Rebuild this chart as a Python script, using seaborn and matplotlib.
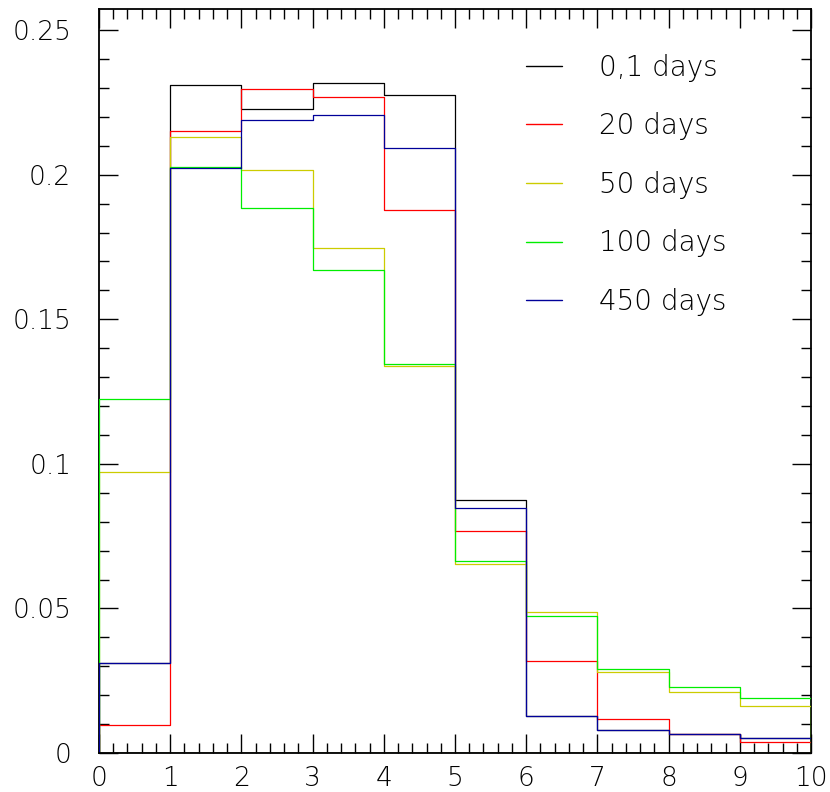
import numpy as np
import pandas as pd
import matplotlib
matplotlib.use("Agg")
import matplotlib.pyplot as plt
import seaborn as sns
from matplotlib.lines import Line2D
from matplotlib.ticker import MultipleLocator

# bins 0..10, one per unit; per-bin fractions
bin_centers = np.arange(10) + 0.5

labels = ["0,1 days", "20 days", "50 days", "100 days", "450 days"]
colors = ["black", "#ff0000", "#cccc00", "#00ee00", "#000099"]

days_0_1 = [0.031, 0.231, 0.2227, 0.2317, 0.2274, 0.0875, 0.0128, 0.0080, 0.0066, 0.0053]
days_20 = [0.0098, 0.2152, 0.2295, 0.2267, 0.1878, 0.0769, 0.0318, 0.0119, 0.0067, 0.0037]
days_50 = [0.0971, 0.2129, 0.2017, 0.1746, 0.1338, 0.0654, 0.0488, 0.0281, 0.0212, 0.0164]
days_100 = [0.1223, 0.2027, 0.1886, 0.1669, 0.1347, 0.0665, 0.0473, 0.0289, 0.0229, 0.0189]
days_450 = [0.031, 0.2022, 0.219, 0.2208, 0.2094, 0.0846, 0.0128, 0.0080, 0.0066, 0.0053]
series = [days_0_1, days_20, days_50, days_100, days_450]

xticks = list(range(0, 11))
yticks = [0, 0.05, 0.1, 0.15, 0.2, 0.25]
ytick_labels = ["0", "0.05", "0.1", "0.15", "0.2", "0.25"]

sns.set_style("ticks")
plt.rcParams["font.family"] = ["DejaVu Sans"]
plt.rcParams["font.weight"] = 200
plt.rcParams["text.color"] = "black"

fig = plt.figure(figsize=(8.3, 7.92), dpi=100)
ax = fig.add_axes([99 / 830, 39 / 792, 712 / 830, 744 / 792])

# outline steps incl. the end edges down to zero, like a ROOT histogram
for vals, col in zip(series, colors):
    df = pd.DataFrame({"x": bin_centers, "w": vals})
    sns.histplot(data=df, x="x", weights="w", binwidth=1, binrange=(0, 10),
                 element="step", fill=True, color=col, facecolor="none",
                 edgecolor=col, linewidth=0.9, zorder=3, ax=ax)

ax.set_xlim(0, 10)
ax.set_ylim(0, 0.2573)
ax.set_xticks(xticks)
ax.set_xticklabels([str(t) for t in xticks])
ax.set_yticks(yticks)
ax.set_yticklabels(ytick_labels)
ax.xaxis.set_minor_locator(MultipleLocator(0.2))
ax.yaxis.set_minor_locator(MultipleLocator(0.01))
ax.set_xlabel("")
ax.set_ylabel("")

ax.tick_params(which="both", direction="in", top=True, right=True, width=1.0, colors="black")
ax.tick_params(which="major", length=13.5)
ax.tick_params(which="minor", length=7)
ax.tick_params(axis="x", which="major", labelsize=19, pad=9)
ax.tick_params(axis="y", which="major", labelsize=19, pad=20)
for s in ax.spines.values():
    s.set_linewidth(1.3)
    s.set_color("black")
ax.spines["bottom"].set_zorder(4)
ax.spines["top"].set_zorder(4)

handles = [Line2D([], [], color=c, linewidth=1.0) for c in colors]
ax.legend(handles, labels, loc="upper left", bbox_to_anchor=(0.6, 0.94), frameon=False,
          fontsize=20, handlelength=1.3, handletextpad=1.33,
          labelspacing=1.1, borderpad=0, borderaxespad=0)

fig.savefig("out.png", dpi=100)
